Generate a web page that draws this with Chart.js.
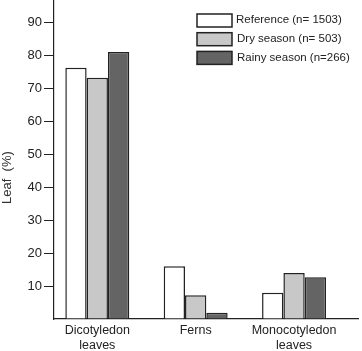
<!DOCTYPE html>
<html>
<head>
<meta charset="utf-8">
<script src="https://cdn.jsdelivr.net/npm/chart.js@4/dist/chart.umd.min.js"></script>
<style>
  html, body { margin: 0; padding: 0; background: #fff; }
  #wrap { width: 362px; height: 351px; }
</style>
</head>
<body>
<div id="wrap"><canvas id="leafChart" width="362" height="351"></canvas></div>
<script>
// data
const categories = [['Dicotyledon', 'leaves'], ['Ferns'], ['Monocotyledon', 'leaves']];
const seriesNames = ['Reference (n= 1503)', 'Dry season (n= 503)', 'Rainy season (n=266)'];
const referenceValues = [76.3, 16.0, 8.0];
const drySeasonValues = [73.3, 7.2, 14.0];
const rainySeasonValues = [81.1, 1.9, 12.7];
const yTickValues = [10, 20, 30, 40, 50, 60, 70, 80, 90];

const fills = ['#ffffff', '#c8c8c8', '#646464'];
const FONT = 'Liberation Sans, Arial, sans-serif';

function toPoints(values) {
    return values.map((v, i) => ({ x: i, y: v }));
}

// legend drawn inside the plot, top right
const boxLegend = {
    id: 'boxLegend',
    afterDraw(chart) {
        const ctx = chart.ctx;
        const area = chart.chartArea;
        const left = area.right - 161;
        ctx.save();
        ctx.font = '11.5px ' + FONT;
        ctx.textBaseline = 'middle';
        chart.data.datasets.forEach((ds, i) => {
            const y = area.top + 14 + i * 18.7;
            ctx.fillStyle = ds.backgroundColor;
            ctx.fillRect(left, y, 35, 13);
            ctx.strokeStyle = '#222';
            ctx.lineWidth = 1.5;
            ctx.strokeRect(left, y, 35, 13);
            ctx.fillStyle = '#222';
            ctx.fillText(ds.label, left + 39 + (i > 0 ? 1 : 0), y + 6);
        });
        ctx.restore();
    }
};

const datasets = [referenceValues, drySeasonValues, rainySeasonValues].map((vals, i) => ({
    label: seriesNames[i],
    data: toPoints(vals),
    backgroundColor: fills[i],
    borderColor: '#222',
    borderWidth: 1.5,
    categoryPercentage: 0.65,
    barPercentage: 1.0
}));

new Chart(document.getElementById('leafChart'), {
    type: 'bar',
    data: { datasets },
    options: {
        responsive: false,
        animation: false,
        layout: { padding: { top: 0, right: 4, left: 0, bottom: 0 } },
        plugins: {
            legend: { display: false },
            tooltip: { enabled: false }
        },
        scales: {
            x: {
                type: 'linear',
                offset: false,
                min: -0.44,
                max: 2.65,
                afterBuildTicks: s => { s.ticks = categories.map((_, i) => ({ value: i })); },
                afterFit: s => { s.height = 32; s.paddingLeft = 0; s.paddingRight = 0; },
                grid: { drawOnChartArea: false, drawTicks: false },
                border: { display: true, color: '#222', width: 1.2 },
                ticks: {
                    color: '#222',
                    padding: 4,
                    maxRotation: 0,
                    autoSkip: false,
                    font: { family: FONT, size: 12.5 },
                    callback: v => categories[v]
                }
            },
            y: {
                min: 0,
                max: 96.9,
                afterBuildTicks: s => { s.ticks = [0].concat(yTickValues).map(v => ({ value: v })); },
                afterFit: s => { s.width = 54; s.paddingTop = 0; s.paddingBottom = 0; },
                grid: {
                    drawOnChartArea: false,
                    drawTicks: true,
                    tickLength: 10,
                    color: ctx => ctx.tick && ctx.tick.value === 0 ? 'rgba(0,0,0,0)' : '#222'
                },
                border: { display: true, color: '#222', width: 1.2 },
                title: {
                    display: true,
                    // trailing spaces push the label a little below the axis middle, as in the figure
                    text: 'Leaf  (%)          ',
                    color: '#333',
                    font: { family: FONT, size: 13 },
                    padding: 0
                },
                ticks: {
                    color: '#222',
                    padding: 2,
                    font: { family: FONT, size: 13 },
                    callback: v => v === 0 ? '' : v
                }
            }
        }
    },
    plugins: [boxLegend]
});
</script>
</body>
</html>
